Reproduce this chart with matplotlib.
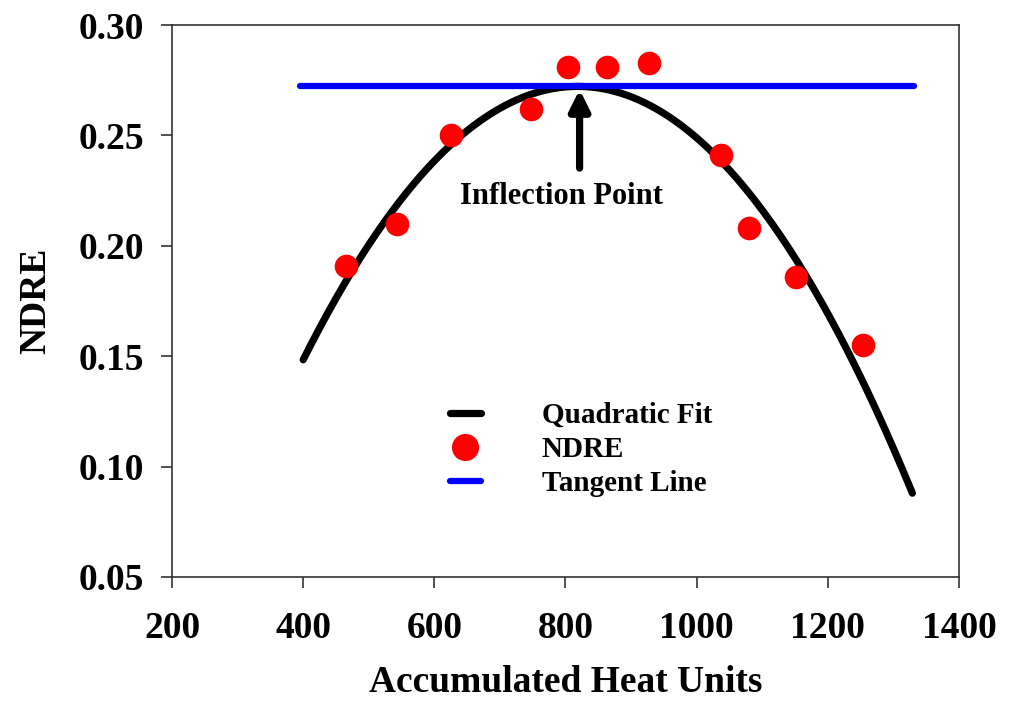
import numpy as np
import matplotlib
matplotlib.use("Agg")
import matplotlib.pyplot as plt

# ---- data ----
heat_units = [466, 543, 626, 747, 804, 863, 927, 1037, 1080, 1152, 1253]
ndre_values = [0.191, 0.210, 0.250, 0.262, 0.281, 0.281, 0.283, 0.241, 0.208, 0.186, 0.155]

# quadratic fit: y = vertex_y - curvature * (x - vertex_x)^2
fit_vertex_x = 818.5
fit_vertex_y = 0.2722
fit_curvature = 7.07e-7
fit_x_range = [400, 1329]

tangent_x = [395, 1332]
tangent_y = [0.2722, 0.2722]

arrow_x = 821.5
arrow_tip_y = 0.2708
arrow_tail_y = 0.2352
label_x = 794
label_y = 0.2222

x_ticks = [200, 400, 600, 800, 1000, 1200, 1400]
y_ticks = [0.05, 0.10, 0.15, 0.20, 0.25, 0.30]
y_tick_labels = ["0.05", "0.10", "0.15", "0.20", "0.25", "0.30"]

plt.rcParams["font.family"] = ["Liberation Serif", "DejaVu Serif"]
plt.rcParams["font.weight"] = "bold"

fig = plt.figure(figsize=(10.09, 7.07), dpi=100)
ax = fig.add_axes([0.1705, 0.1839, 0.7799, 0.7807])

xs = np.linspace(fit_x_range[0], fit_x_range[1], 300)
ys = fit_vertex_y - fit_curvature * (xs - fit_vertex_x) ** 2

ax.plot(xs, ys, color="black", lw=5.2, solid_capstyle="round", label="Quadratic Fit", zorder=2)
ax.plot(heat_units, ndre_values, "o", color="#ff0000", markersize=17, markeredgewidth=0,
        label="NDRE", zorder=3)
ax.plot(tangent_x, tangent_y, color="#0000ff", lw=4.5, solid_capstyle="round",
        label="Tangent Line", zorder=2.5)

ax.annotate("", xy=(arrow_x, arrow_tip_y), xytext=(arrow_x, arrow_tail_y),
            arrowprops=dict(arrowstyle="-|>,head_length=0.6,head_width=0.3",
                            color="black", lw=5.2, shrinkA=0, shrinkB=0,
                            mutation_scale=20), zorder=4)
ax.text(label_x, label_y, "Inflection Point", ha="center", va="center",
        fontsize=22, fontweight="bold")

ax.set_xlim(200, 1400)
ax.set_ylim(0.05, 0.30)
ax.set_xticks(x_ticks)
ax.set_yticks(y_ticks)
ax.set_yticklabels(y_tick_labels)
ax.tick_params(axis="both", direction="out", length=8, width=1.2, labelsize=27,
               top=False, right=False, color="#333333")
ax.tick_params(axis="x", pad=16.5)
ax.tick_params(axis="y", pad=12)
for s in ax.spines.values():
    s.set_linewidth(1.2)
    s.set_color("#333333")

ax.set_xlabel("Accumulated Heat Units", fontsize=27, fontweight="bold", labelpad=14)
ax.set_ylabel("NDRE", fontsize=27, fontweight="bold", labelpad=18)

leg = ax.legend(loc="upper left", bbox_to_anchor=(0.3532, 0.317), frameon=False,
                fontsize=21, handlelength=1.05, handletextpad=2.1, labelspacing=0.24,
                borderpad=0, borderaxespad=0, numpoints=1, markerscale=1.15)

fig.savefig("out.png", dpi=100)
